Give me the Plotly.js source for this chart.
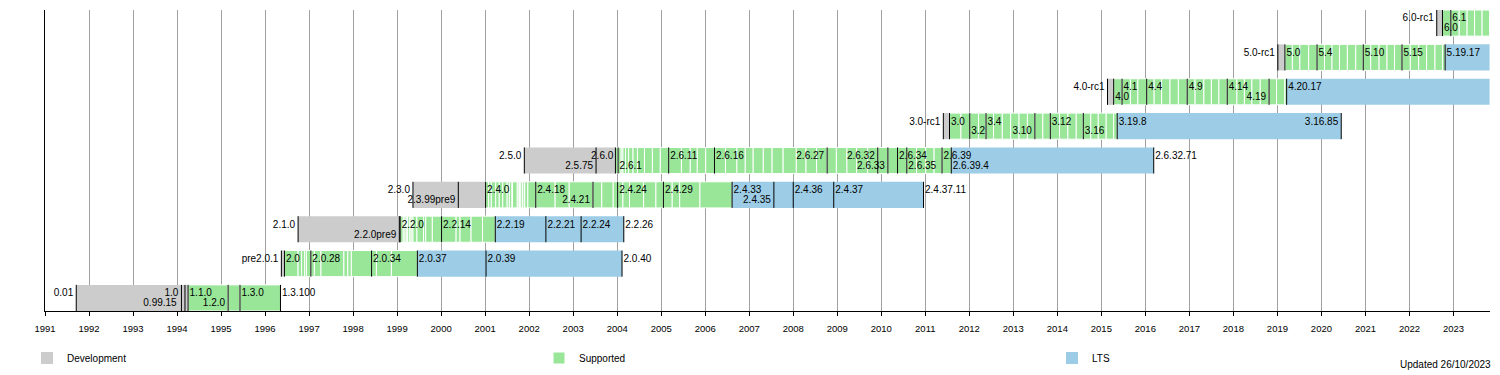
<!DOCTYPE html>
<html><head><meta charset="utf-8">
<script src="https://cdn.plot.ly/plotly-3.0.1.min.js"></script>
<style>html,body{margin:0;padding:0;background:#fff;} #chart{width:1500px;height:375px;}</style>
</head><body><div id="chart"></div>
<script>
// Rows, bottom to top
const rowNames = ['1.x', '2.0', '2.2', '2.4', '2.6', '3.x', '4.x', '5.x', '6.x'];

// Development (grey) periods, decimal years
const devRow   = [0, 1, 2, 3, 4, 5, 6, 7, 8];
const devStart = [1991.71, 1996.37, 1996.75, 1999.36, 2001.89, 2011.41, 2015.14, 2019.01, 2022.62];
const devEnd   = [1994.25, 1996.44, 1999.07, 2001.01, 2003.96, 2011.55, 2015.28, 2019.17, 2022.75];

// Supported (green) periods
const supRow   = [0, 1, 2, 3, 4, 5, 6, 7, 8];
const supStart = [1994.25, 1996.44, 1999.07, 2001.01, 2003.96, 2011.55, 2015.28, 2019.17, 2022.75];
const supEnd   = [1996.35, 1999.46, 2001.23, 2006.61, 2011.59, 2015.36, 2019.21, 2022.81, 2023.82];

// LTS (blue) periods
const ltsRow   = [1, 2, 3, 4, 5, 6, 7];
const ltsStart = [1999.46, 2001.23, 2006.61, 2011.59, 2015.36, 2019.21, 2022.81];
const ltsEnd   = [2004.11, 2004.15, 2010.96, 2016.19, 2020.45, 2023.82, 2023.82];

// Releases inside the supported periods (white separators)
const rel_1x = [1995.16, 1995.43];
const rel_20 = [1996.75, 1996.83, 1996.90, 1996.94, 1997.04, 1997.12, 1997.27, 1997.79, 1997.88, 1997.96, 1998.42, 1998.53, 1998.87];
const rel_22 = [1999.14, 1999.18, 1999.22, 1999.24, 1999.29, 1999.32, 1999.36, 1999.45, 1999.60, 1999.65, 1999.80, 2000.01, 2000.34, 2000.43, 2000.68, 2000.94];
const rel_24 = [2001.08, 2001.14, 2001.24, 2001.32, 2001.40, 2001.50, 2001.55, 2001.61, 2001.62, 2001.73, 2001.77, 2001.78, 2001.81, 2001.85, 2001.89, 2001.90, 2001.97, 2002.15, 2002.59, 2002.91, 2003.45, 2003.65, 2003.91, 2004.01, 2004.13, 2004.28, 2004.60, 2004.88, 2005.05, 2005.25, 2005.42, 2005.88];
const rel_26 = [2004.02, 2004.09, 2004.13, 2004.19, 2004.26, 2004.36, 2004.46, 2004.62, 2004.80, 2004.98, 2005.17, 2005.46, 2005.66, 2005.82, 2006.01, 2006.21, 2006.46, 2006.72, 2006.91, 2007.09, 2007.32, 2007.52, 2007.77, 2008.07, 2008.29, 2008.53, 2008.77, 2008.98, 2009.22, 2009.44, 2009.69, 2009.92, 2010.15, 2010.37, 2010.58, 2010.80, 2011.01, 2011.20, 2011.38];
const rel_3x = [2011.81, 2012.01, 2012.21, 2012.38, 2012.55, 2012.75, 2012.94, 2013.13, 2013.32, 2013.49, 2013.67, 2013.84, 2014.05, 2014.24, 2014.43, 2014.59, 2014.76, 2014.93, 2015.11, 2015.28];
const rel_4x = [2015.47, 2015.66, 2015.83, 2016.03, 2016.20, 2016.37, 2016.56, 2016.75, 2016.95, 2017.13, 2017.33, 2017.50, 2017.67, 2017.86, 2018.08, 2018.25, 2018.42, 2018.61, 2018.81, 2018.98, 2019.17];
const rel_5x = [2019.34, 2019.51, 2019.71, 2019.90, 2020.07, 2020.24, 2020.41, 2020.59, 2020.78, 2020.95, 2021.12, 2021.31, 2021.49, 2021.66, 2021.83, 2022.02, 2022.21, 2022.39, 2022.58, 2022.75];
const rel_6x = [2022.94, 2023.13, 2023.31, 2023.48, 2023.65];

// Highlighted releases (black marks)
const mark_1x = [1991.71, 1994.10, 1994.18, 1994.25, 1995.16, 1995.43, 1996.35];
const mark_20 = [1996.37, 1996.44, 1997.04, 1998.42, 1999.46, 2001.02, 2004.11];
const mark_22 = [1996.75, 1999.05, 1999.07, 2000.01, 2001.23, 2002.38, 2003.18, 2004.15];
const mark_24 = [1999.36, 2000.39, 2001.01, 2002.15, 2003.45, 2004.01, 2005.05, 2006.61, 2007.56, 2008.00, 2008.92, 2010.96];
const mark_26 = [2001.89, 2003.52, 2003.96, 2004.02, 2005.17, 2006.21, 2008.77, 2009.92, 2010.15, 2010.37, 2010.58, 2011.38, 2011.59, 2016.19];
const mark_3x = [2011.41, 2011.55, 2012.01, 2012.38, 2013.49, 2013.84, 2014.59, 2015.36, 2020.45];
const mark_4x = [2015.14, 2015.28, 2015.47, 2016.03, 2016.95, 2017.86, 2018.81, 2019.21];
const mark_5x = [2019.01, 2019.17, 2019.90, 2020.95, 2021.83, 2022.81];
const mark_6x = [2022.62, 2022.75, 2022.94];

// Version labels
const labRow  = [0,0,0,0,0,0,0, 1,1,1,1,1,1,1, 2,2,2,2,2,2,2,2, 3,3,3,3,3,3,3,3,3,3,3,3, 4,4,4,4,4,4,4,4,4,4,4,4,4,4, 5,5,5,5,5,5,5,5,5, 6,6,6,6,6,6,6,6, 7,7,7,7,7,7, 8,8,8];
const labText = ['0.01','1.0','0.99.15','1.1.0','1.2.0','1.3.0','1.3.100',
  'pre2.0.1','2.0','2.0.28','2.0.34','2.0.37','2.0.39','2.0.40',
  '2.1.0','2.2.0pre9','2.2.0','2.2.14','2.2.19','2.2.21','2.2.24','2.2.26',
  '2.3.0','2.3.99pre9','2.4.0','2.4.18','2.4.21','2.4.24','2.4.29','2.4.33','2.4.35','2.4.36','2.4.37','2.4.37.11',
  '2.5.0','2.5.75','2.6.0','2.6.1','2.6.11','2.6.16','2.6.27','2.6.32','2.6.33','2.6.34','2.6.35','2.6.39','2.6.39.4','2.6.32.71',
  '3.0-rc1','3.0','3.2','3.4','3.10','3.12','3.16','3.19.8','3.16.85',
  '4.0-rc1','4.0','4.1','4.4','4.9','4.14','4.19','4.20.17',
  '5.0-rc1','5.0','5.4','5.10','5.15','5.19.17',
  '6.0-rc1','6.0','6.1'];
const labX = [1991.71,1994.10,1994.06,1994.25,1995.16,1995.43,1996.35,
  1996.37,1996.44,1997.04,1998.42,1999.46,2001.02,2004.11,
  1996.75,1999.05,1999.07,2000.01,2001.23,2002.38,2003.18,2004.15,
  1999.36,2000.39,2001.01,2002.15,2003.45,2004.01,2005.05,2006.61,2007.56,2008.00,2008.92,2010.96,
  2001.89,2003.52,2003.98,2004.02,2005.17,2006.21,2008.77,2009.92,2010.15,2010.37,2010.58,2011.38,2011.59,2016.19,
  2011.41,2011.55,2012.01,2012.38,2013.49,2013.84,2014.59,2015.36,2020.45,
  2015.14,2015.28,2015.47,2016.03,2016.95,2017.86,2018.81,2019.21,
  2019.01,2019.17,2019.90,2020.95,2021.83,2022.81,
  2022.62,2022.75,2022.94];
const labSlot = ['t','t','b','t','b','t','t',
  't','t','t','t','t','t','t',
  't','b','t','t','t','t','t','t',
  't','b','t','t','b','t','t','t','b','t','t','t',
  't','b','t','b','t','t','t','t','b','t','b','t','b','t',
  't','t','b','t','b','t','b','t','t',
  't','b','t','t','t','t','b','t',
  't','t','t','t','t','t',
  't','b','t'];
const labSide = ['l','l','l','r','l','r','r',
  'l','r','r','r','r','r','r',
  'l','l','r','r','r','r','r','r',
  'l','l','r','r','l','r','r','r','l','r','r','r',
  'l','l','l','r','r','r','l','l','l','r','r','r','r','r',
  'l','r','r','r','l','r','r','r','l',
  'l','r','r','r','r','r','l','r',
  'l','r','r','r','r','r',
  'l','r','r'];

const legendNames = ['Development', 'Supported', 'LTS'];
const updatedText = 'Updated 26/10/2023';

// ---------- build ----------
const relByRow  = [rel_1x, rel_20, rel_22, rel_24, rel_26, rel_3x, rel_4x, rel_5x, rel_6x];
const markByRow = [mark_1x, mark_20, mark_22, mark_24, mark_26, mark_3x, mark_4x, mark_5x, mark_6x];

const XMIN = 1991, XMAX = 2023.83;
const ML = 45, MR = 10, MT = 10, MB = 64, W = 1500, H = 375;
const PW = W - ML - MR, PH = H - MT - MB;
const pxPerYear = PW / (XMAX - XMIN);
const BARW = 0.76;

const COL_DEV = '#cccccc', COL_SUP = '#99e699', COL_LTS = '#9dcde6';
const FONT = 'Liberation Sans, Arial, Helvetica, sans-serif';

function segTrace(name, rows, starts, ends, color, lw, legendId) {
  return {
    type: 'bar', orientation: 'h', name: name,
    y: rows, base: starts, x: starts.map((s, i) => ends[i] - s),
    width: BARW,
    marker: {color: color, line: {color: '#ffffff', width: lw}},
    legend: legendId, hoverinfo: 'skip'
  };
}

// supported segments split at every release
const gRow = [], gS = [], gE = [];
supRow.forEach((r, i) => {
  const b = [supStart[i]].concat(relByRow[r].filter(d => d > supStart[i] && d < supEnd[i]), [supEnd[i]]);
  for (let k = 0; k < b.length - 1; k++) { gRow.push(r); gS.push(b[k]); gE.push(b[k + 1]); }
});

const traces = [
  segTrace(legendNames[0], devRow, devStart, devEnd, COL_DEV, 0, 'legend'),
  segTrace(legendNames[1], gRow, gS, gE, COL_SUP, 1, 'legend2'),
  segTrace(legendNames[2], ltsRow, ltsStart, ltsEnd, COL_LTS, 0, 'legend3')
];

// black marks
const mx = [], my = [];
markByRow.forEach((arr, r) => arr.forEach(d => {
  mx.push(d, d, null); my.push(r - BARW / 2, r + BARW / 2, null);
}));
traces.push({type: 'scatter', mode: 'lines', x: mx, y: my, line: {color: '#000', width: 1},
  showlegend: false, hoverinfo: 'skip'});

// labels
const SLOT = {t: 0.12, b: -0.17};
traces.push({
  type: 'scatter', mode: 'text', showlegend: false, hoverinfo: 'skip', cliponaxis: false,
  x: labX.map((x, i) => x + (labSide[i] === 'r' ? 1.5 : -3) / pxPerYear),
  y: labRow.map((r, i) => r + SLOT[labSlot[i]]),
  text: labText,
  textposition: labSide.map(s => s === 'r' ? 'middle right' : 'middle left'),
  textfont: {family: FONT, size: 10, color: '#000'}
});

// bottom strip positions (pixels from top of figure)
const LEG_Y = 358, UPD_Y = 364;
const legendBase = {orientation: 'h', yanchor: 'middle', y: (H - MB - LEG_Y) / PH, xanchor: 'left',
  font: {family: FONT, size: 10, color: '#000'}, bgcolor: 'rgba(0,0,0,0)', borderwidth: 0};

const layout = {
  width: W, height: H,
  margin: {l: ML, r: MR, t: MT, b: MB, pad: 0, autoexpand: false},
  paper_bgcolor: '#fff', plot_bgcolor: '#fff',
  barmode: 'overlay', hovermode: false,
  font: {family: FONT, size: 10, color: '#000'},
  xaxis: {
    range: [XMIN, XMAX], tick0: 1991, dtick: 1, tickformat: 'd',
    ticks: 'outside', ticklen: 4, tickwidth: 1, tickcolor: '#000',
    showgrid: true, gridcolor: '#a0a0a0', gridwidth: 1,
    showline: true, linecolor: '#000', linewidth: 1, zeroline: false,
    tickfont: {family: FONT, size: 9.5, color: '#000'}, ticklabelstandoff: 5
  },
  yaxis: {
    range: [-0.38, 8.38], showline: true, linecolor: '#000', linewidth: 1,
    showticklabels: false, showgrid: false, zeroline: false, ticks: ''
  },
  showlegend: true,
  legend:  Object.assign({}, legendBase, {x: (27 - ML) / PW}),
  legend2: Object.assign({}, legendBase, {x: (539 - ML) / PW}),
  legend3: Object.assign({}, legendBase, {x: (1052 - ML) / PW}),
  annotations: [{
    xref: 'paper', yref: 'paper', x: 1, y: (H - MB - UPD_Y) / PH, xanchor: 'right', yanchor: 'middle',
    xshift: 3, showarrow: false, text: updatedText,
    font: {family: FONT, size: 10, color: '#000'}
  }]
};

Plotly.newPlot('chart', traces, layout, {staticPlot: true, displayModeBar: false});
</script>
</body></html>
